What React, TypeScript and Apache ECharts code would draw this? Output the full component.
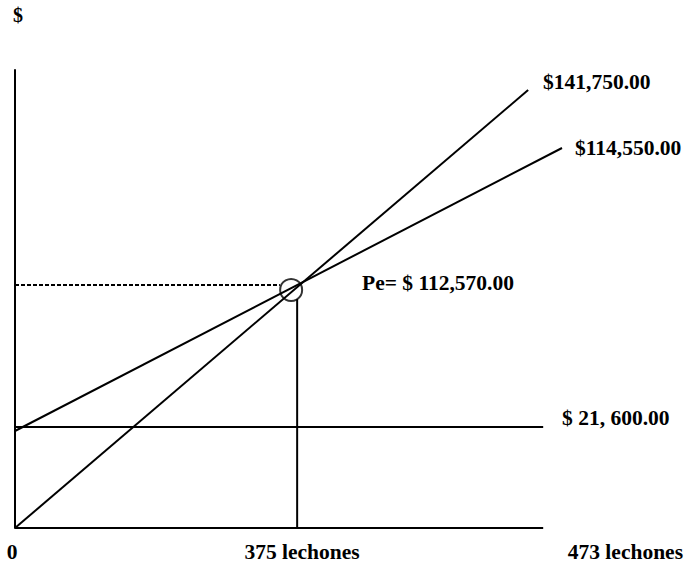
import React, { useEffect, useRef } from "react";
import * as echarts from "echarts";

// Schematic break-even chart: x in lechones-like units, y in schematic height units
const revenueLine = [[0, 0], [682, 438]];
const costLine = [[0, 97], [727, 380]];
const fixedCostLine = [[0, 101], [702, 101]];
const xAxisLine = [[0, 0], [702, 0]];
const breakEvenLevel = [[0, 243], [352, 243]];
const breakEvenUnits = [[375, 229], [375, 0]];
const breakEvenPoint = [[367, 238]];

const labelRevenue = "$141,750.00";
const labelCost = "$114,550.00";
const labelBreakEven = "Pe= $ 112,570.00";
const labelFixed = "$ 21, 600.00";
const axisLabels = ["0", "375 lechones", "473 lechones"];
const yAxisTitle = "$";

export default function App() {
  const ref = useRef<HTMLDivElement>(null);
  useEffect(() => {
    const chart = echarts.init(ref.current!, null, { renderer: "svg" });
    const font = "Liberation Serif, Times New Roman, serif";
    const txt = (text: string, x: number, y: number, align = "left", size = 21.5) => ({
      type: "text",
      x,
      y,
      style: {
        text,
        fill: "#000",
        font: `bold ${size}px ${font}`,
        textAlign: align,
        textVerticalAlign: "middle",
      },
    });
    const lineSeries = (data: number[][], dashed = false) => ({
      type: "line",
      data,
      symbol: "none",
      lineStyle: { color: "#000", width: 2, type: dashed ? [4, 2] : "solid" },
      silent: true,
    });
    chart.setOption({
      animation: false,
      backgroundColor: "#fff",
      grid: { left: 15, top: 70, right: 126, bottom: 39 },
      xAxis: {
        type: "value",
        min: 0,
        max: 727,
        axisLine: { show: false },
        axisTick: { show: false },
        axisLabel: { show: false },
        splitLine: { show: false },
      },
      yAxis: {
        type: "value",
        min: 0,
        max: 458,
        axisLine: { show: true, lineStyle: { color: "#000", width: 2 } },
        axisTick: { show: false },
        axisLabel: { show: false },
        splitLine: { show: false },
      },
      series: [
        lineSeries(xAxisLine),
        lineSeries(revenueLine),
        lineSeries(costLine),
        lineSeries(fixedCostLine),
        lineSeries(breakEvenLevel, true),
        lineSeries(breakEvenUnits),
        {
          type: "scatter",
          data: breakEvenPoint,
          symbol: "circle",
          symbolSize: 22,
          itemStyle: { color: "transparent", borderColor: "#000", borderWidth: 2 },
          silent: true,
        },
      ],
      graphic: [
        txt(yAxisTitle, 18, 15, "center", 20),
        txt(labelRevenue, 543, 82),
        txt(labelCost, 575, 148),
        txt(labelBreakEven, 362, 283),
        txt(labelFixed, 562, 418),
        txt(axisLabels[0], 12, 552, "center"),
        txt(axisLabels[1], 302, 552, "center"),
        txt(axisLabels[2], 683, 552, "right"),
      ],
    });
    return () => chart.dispose();
  }, []);
  return (
    <div
      ref={ref}
      style={{ position: "fixed", left: 0, top: 0, width: 688, height: 567, background: "#fff" }}
    />
  );
}
